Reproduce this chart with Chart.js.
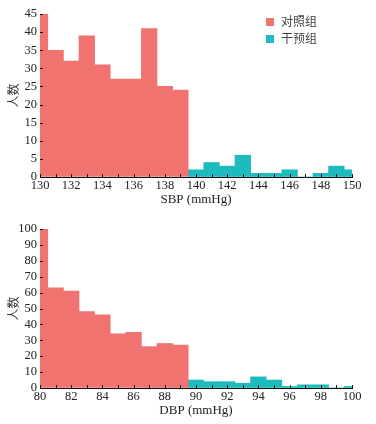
<!DOCTYPE html>
<html lang="zh">
<head>
    <meta charset="UTF-8">
    <title>SBP / DBP 分布</title>
    <script src="https://cdn.jsdelivr.net/npm/chart.js"></script>
    <style>
        body {
            margin: 0;
            padding: 0;
            background: #ffffff;
        }
        .wrap {
            position: relative;
            width: 376px;
            height: 424px;
        }
        .box {
            position: absolute;
            left: 0;
            width: 376px;
            height: 212px;
        }
        .legend {
            position: absolute;
            left: 266px;
            top: 12px;
            font-family: "Noto Sans CJK SC", sans-serif;
            font-size: 12px;
            color: #444;
            line-height: 17px;
        }
        .legend span.sw {
            display: inline-block;
            width: 8px;
            height: 8px;
            margin-right: 7px;
        }
    </style>
</head>
<body>
<div class="wrap">
    <div class="box" style="top:0"><canvas id="sbpChart"></canvas></div>
    <div class="box" style="top:212px"><canvas id="dbpChart"></canvas></div>
    <div class="legend" id="legend"></div>
</div>

<script>
    // 组别
    const groupNames = ['对照组', '干预组'];
    const groupColors = ['#F0736F', '#1DBBBD'];

    // SBP (mmHg)
    const sbpControlX = [130, 131, 132, 133, 134, 135, 136, 137, 138, 139];
    const sbpControlN = [45, 35, 32, 39, 31, 27, 27, 41, 25, 24];
    const sbpInterX = [140, 141, 142, 143, 144, 145, 146, 147, 148, 149, 150];
    const sbpInterN = [2, 4, 3, 6, 1, 1, 2, 0, 1, 3, 2];

    // DBP (mmHg)
    const dbpControlX = [80, 81, 82, 83, 84, 85, 86, 87, 88, 89];
    const dbpControlN = [100, 63, 61, 48, 46, 34, 35, 26, 28, 27];
    const dbpInterX = [90, 91, 92, 93, 94, 95, 96, 97, 98, 99, 100];
    const dbpInterN = [5, 4, 4, 3, 7, 5, 1, 2, 2, 0, 1];

    const serif = "'Liberation Serif', 'Times New Roman', serif";

    function pts(xs, ys) {
        return xs.map((x, i) => ({ x: x, y: ys[i] }));
    }

    // 向内的小刻度
    const innerTicks = {
        id: 'innerTicks',
        afterDraw(chart) {
            const ctx = chart.ctx;
            const xs = chart.scales.x, ys = chart.scales.y;
            const area = chart.chartArea;
            ctx.save();
            ctx.strokeStyle = '#111';
            ctx.lineWidth = 1;
            ctx.beginPath();
            for (let v = xs.min; v <= xs.max; v++) {
                const px = Math.round(xs.getPixelForValue(v)) + 0.5;
                ctx.moveTo(px, area.bottom);
                ctx.lineTo(px, area.bottom - 3);
            }
            ys.ticks.forEach(t => {
                const py = Math.round(ys.getPixelForValue(t.value)) + 0.5;
                ctx.moveTo(area.left, py);
                ctx.lineTo(area.left + 3, py);
            });
            ctx.stroke();
            ctx.restore();
        }
    };

    function makeChart(id, cx, cy, ix, iy, xmin, xmax, ymax, ystep, xTitle, topPad, xHeight, titlePad) {
        return new Chart(document.getElementById(id), {
            type: 'bar',
            data: {
                datasets: [{
                    label: groupNames[0],
                    data: pts(cx, cy),
                    backgroundColor: groupColors[0],
                    borderWidth: 0,
                    clip: 0
                }, {
                    label: groupNames[1],
                    data: pts(ix, iy),
                    backgroundColor: groupColors[1],
                    borderWidth: 0,
                    clip: 0
                }]
            },
            options: {
                responsive: true,
                maintainAspectRatio: false,
                animation: false,
                grouped: false,
                barPercentage: 1,
                categoryPercentage: 1,
                layout: { padding: { left: 0, right: 24, top: topPad, bottom: 0 } },
                plugins: { legend: { display: false }, tooltip: { enabled: false } },
                scales: {
                    x: {
                        type: 'linear',
                        min: xmin,
                        max: xmax,
                        offset: false,
                        afterFit: s => { s.height = xHeight; },
                        grid: { drawOnChartArea: false, drawTicks: false },
                        border: { display: true, color: '#111', width: 1 },
                        ticks: {
                            stepSize: 2,
                            padding: 1,
                            maxRotation: 0,
                            autoSkip: false,
                            color: '#222',
                            font: { family: serif, size: 12.5 }
                        },
                        title: {
                            display: true,
                            text: xTitle,
                            color: '#222',
                            padding: { top: 0, bottom: titlePad },
                            font: { family: serif, size: 13 }
                        }
                    },
                    y: {
                        min: 0,
                        max: ymax,
                        afterFit: s => { s.width = 40; },
                        grid: { drawOnChartArea: false, drawTicks: false },
                        border: { display: true, color: '#111', width: 1 },
                        ticks: {
                            stepSize: ystep,
                            padding: 3,
                            autoSkip: false,
                            color: '#222',
                            font: { family: serif, size: 12.5 }
                        },
                        title: {
                            display: true,
                            text: '人数',
                            color: '#333',
                            padding: { top: 6, bottom: 0 },
                            font: { family: "'Noto Sans CJK SC'", size: 12 }
                        }
                    }
                }
            },
            plugins: [innerTicks]
        });
    }

    makeChart('sbpChart', sbpControlX, sbpControlN, sbpInterX, sbpInterN,
        130, 150, 45, 5, 'SBP (mmHg)', 14, 35, 5);
    makeChart('dbpChart', dbpControlX, dbpControlN, dbpInterX, dbpInterN,
        80, 100, 100, 10, 'DBP (mmHg)', 17, 36, 6);

    // 图例
    const legend = document.getElementById('legend');
    groupNames.forEach((name, i) => {
        const row = document.createElement('div');
        row.innerHTML = '<span class="sw" style="background:' + groupColors[i] + '"></span>' + name;
        legend.appendChild(row);
    });
</script>
</body>
</html>
